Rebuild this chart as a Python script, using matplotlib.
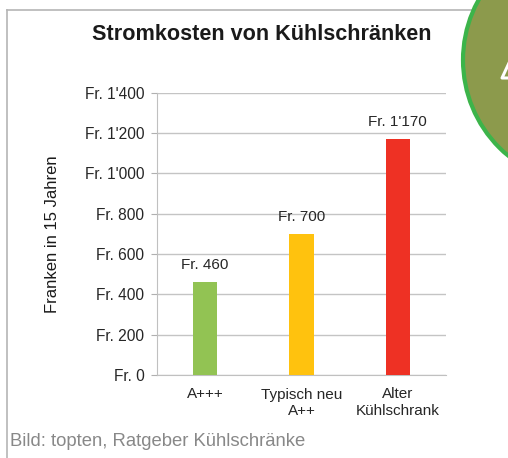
import matplotlib.pyplot as plt
from matplotlib.patches import Circle
from matplotlib.lines import Line2D

plt.rcParams['font.family'] = ['Liberation Sans', 'DejaVu Sans']

# Daten
kategorien = ['A+++', 'Typisch neu\nA++', 'Alter\nKühlschrank']
kosten = [460, 700, 1170]
farben = ['#92c353', '#ffc20e', '#ee3124']
y_ticks = [0, 200, 400, 600, 800, 1000, 1200, 1400]
y_labels = ["Fr. 0", "Fr. 200", "Fr. 400", "Fr. 600", "Fr. 800",
            "Fr. 1'000", "Fr. 1'200", "Fr. 1'400"]
wert_labels = ["Fr. 460", "Fr. 700", "Fr. 1'170"]

W, H = 508, 458
fig = plt.figure(figsize=(W / 100, H / 100), dpi=100)
fig.patch.set_facecolor('white')

ax = fig.add_axes([157 / W, 1 - 375 / H, 289 / W, 282.4 / H])
x = range(len(kategorien))
ax.bar(x, kosten, width=0.25, color=farben, zorder=3)
ax.set_xlim(-0.5, 2.5)
ax.set_ylim(0, 1400)
ax.set_yticks(y_ticks)
ax.set_yticklabels(y_labels)
ax.set_xticks(list(x))
ax.set_xticklabels(kategorien)
ax.tick_params(axis='y', length=4, color='#b0b0b0', labelsize=11.2, labelcolor='#262626', pad=5)
ax.tick_params(axis='x', length=0, labelsize=11, labelcolor='#262626', pad=9)
ax.grid(axis='y', color='#c4c4c4', linewidth=1, zorder=0)
for s in ['top', 'right']:
    ax.spines[s].set_visible(False)
for s in ['left', 'bottom']:
    ax.spines[s].set_color('#c0c0c0')
ax.set_ylabel('Franken in 15 Jahren', fontsize=12, color='#1a1a1a', labelpad=18)

for i, v in enumerate(kosten):
    ax.annotate(wert_labels[i], (i, v), xytext=(0, 7), textcoords='offset points',
                ha='center', va='bottom', fontsize=11, color='#262626')

fig.text(262 / W, 1 - 35 / H, 'Stromkosten von Kühlschränken', ha='center', va='center',
         fontsize=15.6, fontweight='bold', color='#1a1a1a')
fig.text(10 / W, 1 - 441 / H, 'Bild: topten, Ratgeber Kühlschränke', ha='left', va='center',
         fontsize=13.3, color='#888888')

# Rahmen
fig.add_artist(Line2D([7 / W, 7 / W], [0, 1 - 10 / H], color='#b5b5b5', lw=1.2, transform=fig.transFigure))
fig.add_artist(Line2D([7 / W, 1], [1 - 10 / H, 1 - 10 / H], color='#b5b5b5', lw=1.2, transform=fig.transFigure))

# Kreis oben rechts
circ = Circle((587, H - 60), 124, transform=None, facecolor='#8c9a4c', edgecolor='#3cb44a', lw=3, zorder=10)
fig.add_artist(circ)
# angeschnittenes weisses Zeichen im Kreis
fig.add_artist(Line2D([509 / W, 502 / W, 509 / W], [1 - 63 / H, 1 - 78 / H, 1 - 78 / H],
                      color='white', lw=2.2, transform=fig.transFigure, zorder=11))

fig.savefig('out.png', dpi=100)
